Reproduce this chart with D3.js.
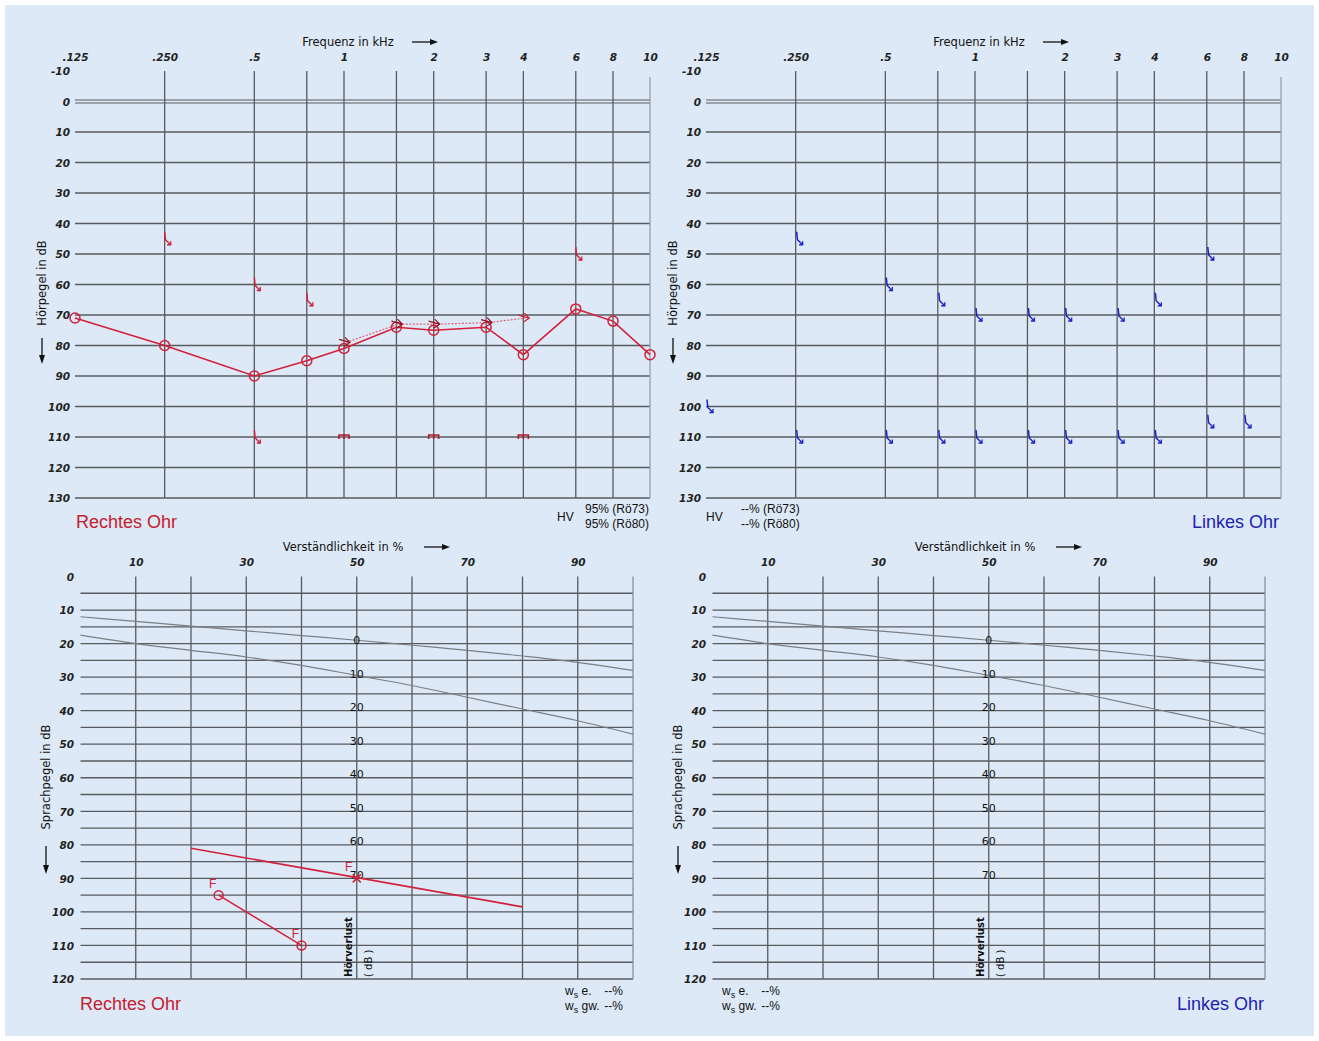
<!DOCTYPE html>
<html><head><meta charset="utf-8">
<script src="https://cdn.jsdelivr.net/npm/d3@7"></script>
<style>body{margin:0;background:#fff;} svg{display:block}</style>
</head><body><svg id="c" width="1319" height="1041"></svg>
<script>
// ---------- data ----------
const freqs = [0.125,0.25,0.5,0.75,1,1.5,2,3,4,6,8,10];
const freqLabels = [".125",".250",".5","","1","","2","3","4","6","8","10"];
const gridFreqs = [0.25,0.5,0.75,1,1.5,2,3,4,6,8,10];
const dbTicks = [-10,0,10,20,30,40,50,60,70,80,90,100,110,120,130];
const dbGrid = [10,20,30,40,50,60,70,80,90,100,110,120,130];
const rightAir = [71,80,90,85,81,74,75,74,83,68,72,83];
const rightBoneArrow = [{f:1,db:79},{f:1.5,db:73},{f:2,db:73},{f:3,db:72.5},{f:4,db:71}];
const rightMasked = [{f:0.25,db:45},{f:0.5,db:60},{f:0.75,db:65},{f:6,db:50},{f:0.5,db:110}];
const rightNoResponse = [{f:1,db:110},{f:2,db:110},{f:4,db:110}];
const leftMasked = [{f:0.125,db:100},{f:0.25,db:45},{f:0.25,db:110},{f:0.5,db:60},{f:0.5,db:110},
  {f:0.75,db:65},{f:0.75,db:110},{f:1,db:70},{f:1,db:110},{f:1.5,db:70},{f:1.5,db:110},
  {f:2,db:70},{f:2,db:110},{f:3,db:70},{f:3,db:110},{f:4,db:65},{f:4,db:110},
  {f:6,db:50},{f:6,db:105},{f:8,db:105}];

const pctTicks = [10,30,50,70,90];
const pctGrid = [10,20,30,40,50,60,70,80,90,100];
const splTicks = [0,10,20,30,40,50,60,70,80,90,100,110,120];
const splGrid = [5,10,15,20,25,30,35,40,45,50,55,60,65,70,75,80,85,90,95,100,105,110,115,120];
const normPct = [0,10,20,30,40,50,60,70,80,90,100];
const normCurveA = [12,13.4,14.8,16.2,17.6,19,20.5,22,23.7,25.6,28];
const normCurveB = [17.5,20,22,24,26.5,29.5,32.5,36,39.5,43,47];
const hlLabels = [0,10,20,30,40,50,60,70];
const rightSpeechLine = [{p:20,db:81},{p:80,db:98.5}];
const rightSpeechCircles = [{p:25,db:95},{p:40,db:110}];
const rightSpeechCross = [{p:50,db:90}];

// ---------- drawing ----------
const RED = "#d2203a", DARKRED = "#8e1422", BLUE = "#1a22c8", GRID = "#585b60";
const svg = d3.select("#c");
svg.append("rect").attr("x",5).attr("y",5).attr("width",1309).attr("height",1031).attr("fill","#dde9f6");

function arrowRight(g, x1, x2, y){
  g.append("line").attr("x1",x1).attr("x2",x2-4).attr("y1",y).attr("y2",y).attr("stroke","#111").attr("stroke-width",1.3);
  g.append("path").attr("d",`M${x2},${y} L${x2-8},${y-3} L${x2-8},${y+3} Z`).attr("fill","#111");
}

function styleAxis(a){
  a.select(".domain").remove();
  a.selectAll("text").attr("font-family","DejaVu Sans").attr("font-size",10.5)
    .attr("font-style","italic").attr("font-weight","bold").attr("fill","#222");
}

function maskedGlyph(g, x, y, color){
  g.append("path").attr("d",`M${x},${y-7} L${x+0.8},${y+1} L${x+6},${y+6}`)
    .attr("fill","none").attr("stroke",color).attr("stroke-width",1.5);
  g.append("path").attr("d",`M${x+6},${y+2.5} L${x+6},${y+6} L${x+2.5},${y+6}`)
    .attr("fill","none").attr("stroke",color).attr("stroke-width",1.3);
}

function audiogram(dx, ear){
  const g = svg.append("g");
  const x = d3.scaleLog().domain([0.125,8,10]).range([75+dx,613+dx,650+dx]);
  const y = d3.scaleLinear().domain([-10,130]).range([71,498]);
  // grid
  g.selectAll(".hg").data(dbGrid).join("line").attr("x1",x(0.125)).attr("x2",x(10))
    .attr("y1",d=>y(d)).attr("y2",d=>y(d)).attr("stroke",GRID).attr("stroke-width",1.3);
  [-1.5,1.5].forEach(o=>g.append("line").attr("x1",x(0.125)).attr("x2",x(10))
    .attr("y1",y(0)+o).attr("y2",y(0)+o).attr("stroke",GRID).attr("stroke-width",1.1));
  g.selectAll(".vg").data(gridFreqs).join("line").attr("x1",d=>x(d)).attr("x2",d=>x(d))
    .attr("y1",d=>d===10?y(-8):y(-10)).attr("y2",y(130))
    .attr("stroke",d=>d===10?"#9aa0a6":GRID).attr("stroke-width",1.3);
  // axes
  const ax = g.append("g").attr("transform","translate(0,61)")
    .call(d3.axisTop(x).tickValues(freqs.filter((f,i)=>freqLabels[i]!=="")).tickFormat(f=>freqLabels[freqs.indexOf(f)]).tickSize(0).tickPadding(0));
  styleAxis(ax);
  const ay = g.append("g").attr("transform",`translate(${70+dx},0)`)
    .call(d3.axisLeft(y).tickValues(dbTicks).tickFormat(d=>String(d)).tickSize(0).tickPadding(0));
  styleAxis(ay);
  ay.selectAll("text").attr("dy","0.36em");
  // titles
  g.append("text").attr("x",348+dx).attr("y",46).attr("text-anchor","middle")
    .attr("font-family","DejaVu Sans").attr("font-size",11.5).attr("fill","#111").text("Frequenz in kHz");
  arrowRight(g, 412+dx, 438+dx, 42);
  g.append("text").attr("transform",`translate(${46+dx},283) rotate(-90)`).attr("text-anchor","middle")
    .attr("font-family","DejaVu Sans").attr("font-size",11.5).attr("fill","#111").text("Hörpegel in dB");
  g.append("line").attr("x1",42+dx).attr("x2",42+dx).attr("y1",338).attr("y2",356).attr("stroke","#111").attr("stroke-width",1.3);
  g.append("path").attr("d",`M${42+dx},364 L${39+dx},355 L${45+dx},355 Z`).attr("fill","#111");

  if(ear==="R"){
    g.append("path").datum(rightBoneArrow)
      .attr("d",d3.line().x(d=>x(d.f)+2).y(d=>y(d.db)))
      .attr("fill","none").attr("stroke","#e0607a").attr("stroke-width",1.2).attr("stroke-dasharray","2,1.5");
    g.append("path").datum(freqs.map((f,i)=>({f,db:rightAir[i]})))
      .attr("d",d3.line().x(d=>x(d.f)).y(d=>y(d.db)))
      .attr("fill","none").attr("stroke",RED).attr("stroke-width",1.6);
    g.selectAll(".air").data(freqs.map((f,i)=>({f,db:rightAir[i]}))).join("circle")
      .attr("cx",d=>x(d.f)).attr("cy",d=>y(d.db)).attr("r",5)
      .attr("fill","none").attr("stroke",RED).attr("stroke-width",1.5);
    rightBoneArrow.forEach(d=>{
      const cx=x(d.f)+3, cy=y(d.db);
      g.append("path").attr("d",`M${cx-8},${cy-3} L${cx+3},${cy} M${cx-2},${cy-5} L${cx+3},${cy} L${cx-3},${cy+4}`)
        .attr("fill","none").attr("stroke",d.f===4?RED:DARKRED).attr("stroke-width",1.2);
    });
    rightMasked.forEach(d=>maskedGlyph(g, x(d.f), y(d.db), RED));
    rightNoResponse.forEach(d=>{
      const cx=x(d.f), cy=y(d.db);
      g.append("path").attr("d",`M${cx-5},${cy+2} L${cx-5},${cy-2} L${cx+5},${cy-2} L${cx+5},${cy+2} M${cx},${cy-2} L${cx},${cy+2}`)
        .attr("fill","none").attr("stroke","#b21a2c").attr("stroke-width",1.6);
    });
    g.append("text").attr("x",76).attr("y",528).attr("font-family","Liberation Sans").attr("font-size",18).attr("fill","#c4202e").text("Rechtes Ohr");
    g.append("text").attr("x",557).attr("y",521).attr("font-family","Liberation Sans").attr("font-size",12).attr("fill","#111").text("HV");
    g.append("text").attr("x",585).attr("y",513).attr("font-family","Liberation Sans").attr("font-size",12).attr("fill","#111").text("95% (Rö73)");
    g.append("text").attr("x",585).attr("y",528).attr("font-family","Liberation Sans").attr("font-size",12).attr("fill","#111").text("95% (Rö80)");
  } else {
    leftMasked.forEach(d=>maskedGlyph(g, x(d.f)+1, y(d.db), BLUE));
    g.append("text").attr("x",1279).attr("y",528).attr("text-anchor","end").attr("font-family","Liberation Sans").attr("font-size",18).attr("fill","#1c23b4").text("Linkes Ohr");
    g.append("text").attr("x",706).attr("y",521).attr("font-family","Liberation Sans").attr("font-size",12).attr("fill","#111").text("HV");
    g.append("text").attr("x",741).attr("y",513).attr("font-family","Liberation Sans").attr("font-size",12).attr("fill","#111").text("--% (Rö73)");
    g.append("text").attr("x",741).attr("y",528).attr("font-family","Liberation Sans").attr("font-size",12).attr("fill","#111").text("--% (Rö80)");
  }
}

function speech(dx, ear){
  const g = svg.append("g");
  const x = d3.scaleLinear().domain([0,100]).range([80.5+dx,633+dx]);
  const y = d3.scaleLinear().domain([0,120]).range([576.5,979]);
  g.selectAll(".hg").data(splGrid).join("line").attr("x1",x(0)).attr("x2",x(100))
    .attr("y1",d=>y(d)).attr("y2",d=>y(d)).attr("stroke",GRID).attr("stroke-width",1.3);
  g.selectAll(".vg").data(pctGrid).join("line").attr("x1",d=>x(d)).attr("x2",d=>x(d))
    .attr("y1",y(0)).attr("y2",y(120)).attr("stroke",d=>d===100?"#8a9096":GRID).attr("stroke-width",1.3);
  const ax = g.append("g").attr("transform","translate(0,566)")
    .call(d3.axisTop(x).tickValues(pctTicks).tickSize(0).tickPadding(0));
  styleAxis(ax);
  const ay = g.append("g").attr("transform",`translate(${74+dx},0)`)
    .call(d3.axisLeft(y).tickValues(splTicks).tickSize(0).tickPadding(0));
  styleAxis(ay);
  ay.selectAll("text").attr("dy","0.36em");
  g.append("text").attr("x",343+dx).attr("y",551).attr("text-anchor","middle")
    .attr("font-family","DejaVu Sans").attr("font-size",11.5).attr("fill","#111").text("Verständlichkeit in %");
  arrowRight(g, 424+dx, 450+dx, 547);
  g.append("text").attr("transform",`translate(${50+dx},777) rotate(-90)`).attr("text-anchor","middle")
    .attr("font-family","DejaVu Sans").attr("font-size",11.5).attr("fill","#111").text("Sprachpegel in dB");
  g.append("line").attr("x1",46+dx).attr("x2",46+dx).attr("y1",846).attr("y2",866).attr("stroke","#111").attr("stroke-width",1.3);
  g.append("path").attr("d",`M${46+dx},874 L${43+dx},865 L${49+dx},865 Z`).attr("fill","#111");
  [normCurveA, normCurveB].forEach(c=>{
    g.append("path").datum(normPct.map((p,i)=>({p,db:c[i]})))
      .attr("d",d3.line().curve(d3.curveMonotoneX).x(d=>x(d.p)).y(d=>y(d.db)))
      .attr("fill","none").attr("stroke","#7b7f85").attr("stroke-width",1.2);
  });
  hlLabels.forEach(v=>{
    g.append("text").attr("x",x(50)).attr("y",y(normCurveA[5]+v)).attr("dy","0.36em").attr("text-anchor","middle")
      .attr("font-family","DejaVu Sans").attr("font-size",11).attr("fill","#111").text(v);
  });
  g.append("text").attr("transform",`translate(${x(50)-5},977) rotate(-90)`)
    .attr("font-family","DejaVu Sans").attr("font-size",10).attr("font-weight","bold").attr("fill","#111").text("Hörverlust");
  g.append("text").attr("transform",`translate(${x(50)+15},977) rotate(-90)`)
    .attr("font-family","DejaVu Sans").attr("font-size",10).attr("fill","#111").text("( dB )");
  const wsx = ear==="R" ? 565 : 722;
  [["e.",995],["gw.",1010]].forEach(([a,yy])=>{
    const t = g.append("text").attr("x",wsx).attr("y",yy).attr("font-family","Liberation Sans").attr("font-size",12).attr("fill","#111");
    t.append("tspan").text("w");
    t.append("tspan").attr("font-size",9).attr("dy",3).text("s");
    t.append("tspan").attr("dy",-3).text(" "+a);
    t.append("tspan").attr("x",wsx+58).attr("text-anchor","end").text("--%");
  });
  if(ear==="R"){
    g.append("path").datum(rightSpeechLine).attr("d",d3.line().x(d=>x(d.p)).y(d=>y(d.db)))
      .attr("fill","none").attr("stroke",RED).attr("stroke-width",1.6);
    g.append("path").datum(rightSpeechCircles).attr("d",d3.line().x(d=>x(d.p)).y(d=>y(d.db)))
      .attr("fill","none").attr("stroke",RED).attr("stroke-width",1.5);
    rightSpeechCircles.forEach(d=>{
      g.append("circle").attr("cx",x(d.p)).attr("cy",y(d.db)).attr("r",4.5).attr("fill","none").attr("stroke",RED).attr("stroke-width",1.5);
      g.append("text").attr("x",x(d.p)-6).attr("y",y(d.db)-7).attr("text-anchor","middle").attr("font-family","Liberation Sans").attr("font-size",12).attr("fill",RED).text("F");
    });
    rightSpeechCross.forEach(d=>{
      const cx=x(d.p), cy=y(d.db);
      g.append("path").attr("d",`M${cx-4},${cy-4} L${cx+4},${cy+4} M${cx-4},${cy+4} L${cx+4},${cy-4}`).attr("stroke",RED).attr("stroke-width",1.5);
      g.append("text").attr("x",cx-8).attr("y",cy-7).attr("text-anchor","middle").attr("font-family","Liberation Sans").attr("font-size",12).attr("fill",RED).text("F");
    });
    g.append("text").attr("x",80).attr("y",1010).attr("font-family","Liberation Sans").attr("font-size",18).attr("fill","#c4202e").text("Rechtes Ohr");
  } else {
    g.append("text").attr("x",1264).attr("y",1010).attr("text-anchor","end").attr("font-family","Liberation Sans").attr("font-size",18).attr("fill","#1c23b4").text("Linkes Ohr");
  }
}

audiogram(0,"R");
audiogram(631,"L");
speech(0,"R");
speech(632,"L");
</script></body></html>
